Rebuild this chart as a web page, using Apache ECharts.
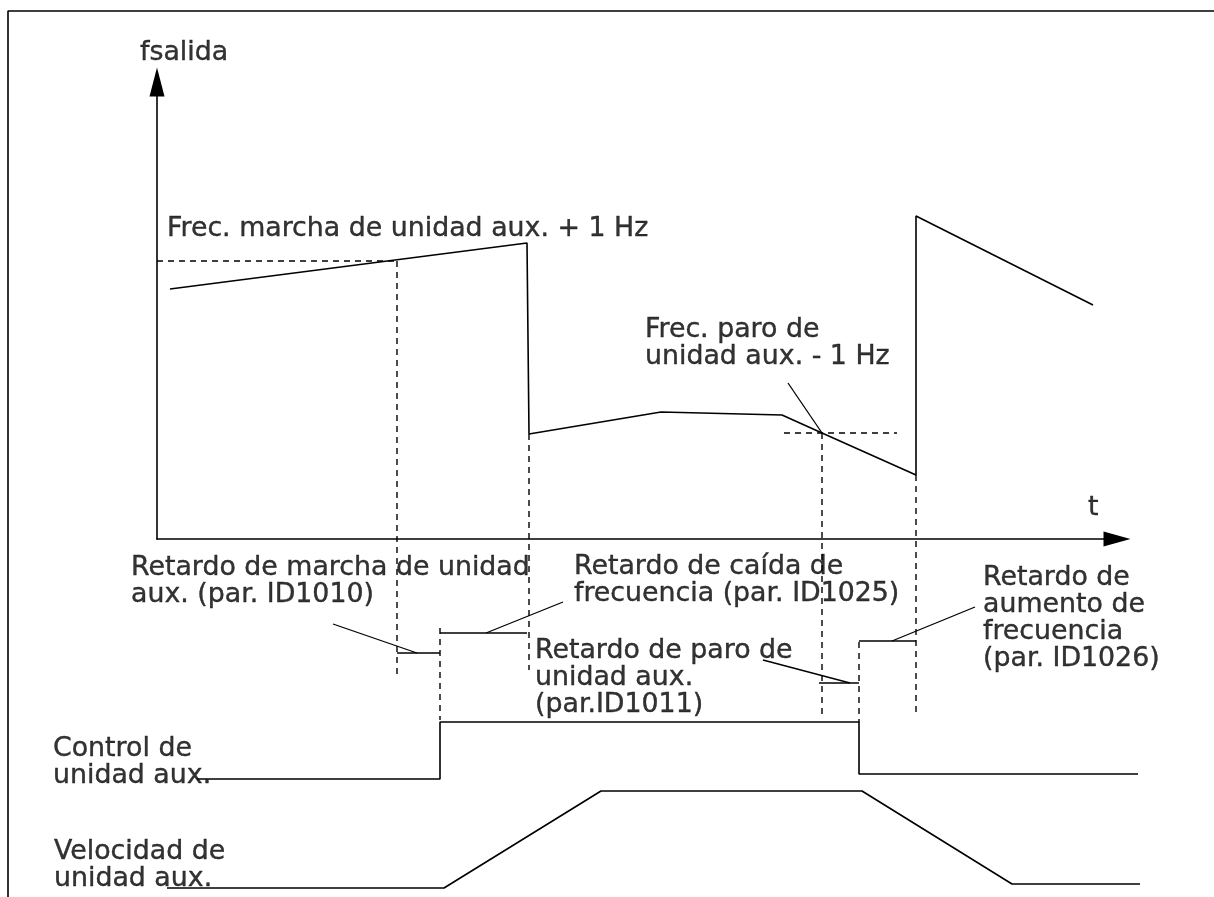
<!DOCTYPE html>
<html>
<head>
<meta charset="utf-8">
<script src="https://cdn.jsdelivr.net/npm/echarts@6/dist/echarts.min.js"></script>
<style>
html,body{margin:0;padding:0;background:#fff;}
#chart{width:1214px;height:897px;}
</style>
</head>
<body>
<div id="chart"></div>
<script>
// Coordinate units: x = time offset from the fsalida axis, y = frequency offset from the t axis
// Output frequency (solid)
const freqLine = [[13, 250], [370, 296], [372, 105], [504, 127], [625, 124], [665, 106], [759, 64], [759, 323], [936, 234]];
// Thresholds (dashed)
const marchaThreshold = [[0, 278], [240, 278]];
const paroThreshold = [[627, 106], [740, 106]];
// Vertical guides (dashed)
const guideMarcha = [[240, 278], [240, -136]];
const guideCaida = [[372, 105], [372, -131]];
const guideParo = [[665, 106], [665, -178]];
const guideAumento = [[759, 64], [759, -174]];
const guideControlOn = [[283, -89], [283, -181]];
const guideControlOff = [[702, -103], [702, -183]];
// Delay brackets (solid)
const delayMarcha = [[240, -114], [283, -114]];
const delayCaida = [[283, -94], [370, -94]];
const delayParo = [[662, -144], [702, -144]];
const delayAumento = [[702, -102], [759, -102]];
// Leader lines
const leaderMarcha = [[176, -85], [260, -114]];
const leaderCaida = [[406, -63], [329, -94]];
const leaderParo = [[606, -121], [693, -144]];
const leaderAumento = [[818, -68], [735, -102]];
const leaderFrecParo = [[631, 156], [665, 106]];
// Aux drive control signal
const controlSignal = [[40, -240], [283, -240], [283, -183], [702, -183], [702, -235], [981, -235]];
// Aux drive speed
const speedSignal = [[10, -349], [287, -349], [444, -252], [705, -252], [855, -345], [983, -345]];
// Frame
const frameLine = [[-149, -358], [-149, 528], [1057, 528]];
// Axis extents (time and frequency axes)
const timeAxisMax = 960;
const freqAxisMax = 457;
// Text annotations: [x, baseline y, text]
const annotations = [
  [-17, 479, 'fsalida'],
  [10, 303, 'Frec. marcha de unidad aux. + 1 Hz'],
  [488, 202, 'Frec. paro de\nunidad aux. - 1 Hz'],
  [931, 24, 't'],
  [-26, -36, 'Retardo de marcha de unidad\naux. (par. ID1010)'],
  [417, -35, 'Retardo de caída de\nfrecuencia (par. ID1025)'],
  [378, -119, 'Retardo de paro de\nunidad aux.\n(par.ID1011)'],
  [826, -46, 'Retardo de\naumento de\nfrecuencia\n(par. ID1026)'],
  [-104, -217, 'Control de\nunidad aux.'],
  [-103, -320, 'Velocidad de\nunidad aux.']
];

const FONT = 'DejaVu Sans';
const FS = 26.8, LH = 27;

function solid(data, w) {
  return { type: 'line', data: data, clip: false, symbol: 'none', silent: true,
    xAxisIndex: 0, yAxisIndex: 0,
    lineStyle: { color: '#000', width: w || 1.6 } };
}
function dashed(data) {
  return { type: 'line', data: data, clip: false, symbol: 'none', silent: true,
    xAxisIndex: 0, yAxisIndex: 0,
    lineStyle: { color: '#000', width: 1.4, type: [6, 5] } };
}

const series = [
  solid(frameLine, 1.6),
  solid(freqLine),
  dashed(marchaThreshold), dashed(paroThreshold),
  dashed(guideMarcha), dashed(guideCaida), dashed(guideParo), dashed(guideAumento),
  dashed(guideControlOn), dashed(guideControlOff),
  solid(delayMarcha), solid(delayCaida), solid(delayParo), solid(delayAumento),
  solid(leaderMarcha, 1.3), solid(leaderCaida, 1.3), solid(leaderParo, 1.3), solid(leaderAumento, 1.3), solid(leaderFrecParo, 1.3),
  solid(controlSignal), solid(speedSignal),
  {
    type: 'scatter', clip: false, silent: true, symbolSize: 0,
    xAxisIndex: 0, yAxisIndex: 0,
    data: annotations.map(a => ({ value: [a[0], a[1]], text: a[2] })),
    label: {
      show: true, position: [0, 0], align: 'left', verticalAlign: 'top',
      offset: [0, -(LH / 2 + 0.346 * FS) + 2],
      formatter: p => p.data.text,
      color: '#000', fontFamily: FONT, fontSize: FS, lineHeight: LH,
      textBorderColor: '#000', textBorderWidth: 0.4
    }
  }
];

const W = 1214, H = 897, originX = 157, originY = 539;
const hidden = { axisLine: { show: false }, axisTick: { show: false }, axisLabel: { show: false }, splitLine: { show: false } };

const chart = echarts.init(document.getElementById('chart'), null, { renderer: 'canvas' });
chart.setOption({
  animation: false,
  backgroundColor: '#fff',
  grid: [
    { left: 0, right: 0, top: 0, bottom: 0 },
    { left: originX, right: W - originX - timeAxisMax, top: originY - freqAxisMax, bottom: H - originY }
  ],
  xAxis: [
    Object.assign({ type: 'value', gridIndex: 0, min: -originX, max: W - originX }, hidden),
    {
      type: 'value', gridIndex: 1, min: 0, max: timeAxisMax,
      axisLine: { show: true, symbol: ['none', 'triangle'], symbolSize: [15, 27], lineStyle: { color: '#000', width: 1.6 } },
      axisTick: { show: false }, axisLabel: { show: false }, splitLine: { show: false }
    }
  ],
  yAxis: [
    Object.assign({ type: 'value', gridIndex: 0, min: originY - H, max: originY }, hidden),
    {
      type: 'value', gridIndex: 1, min: 0, max: freqAxisMax,
      axisLine: { show: true, symbol: ['none', 'triangle'], symbolSize: [15, 29], lineStyle: { color: '#000', width: 1.6 } },
      axisTick: { show: false }, axisLabel: { show: false }, splitLine: { show: false }
    }
  ],
  series: series
});
</script>
</body>
</html>
